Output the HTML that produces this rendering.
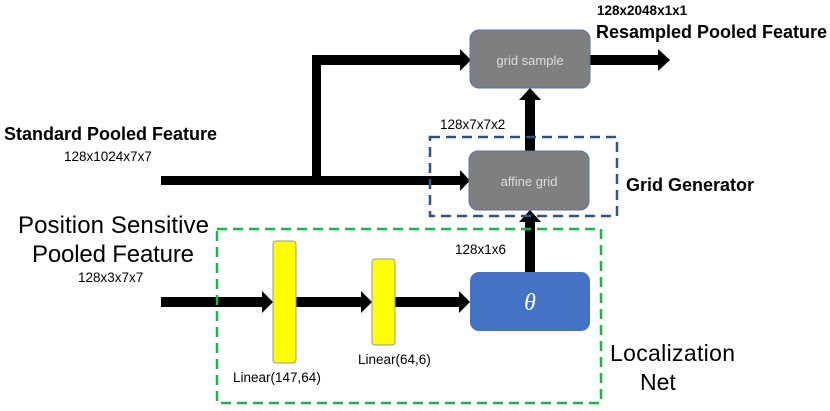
<!DOCTYPE html>
<html><head><meta charset="utf-8"><style>
body{margin:0;width:830px;height:411px;background:#fff;overflow:hidden}
svg{display:block}
text{font-family:"Liberation Sans",sans-serif;fill:#000}
.b{font-weight:bold}
</style></head><body>
<svg width="830" height="411" viewBox="0 0 830 411">
<g fill="#000">
<rect x="312" y="55" width="150" height="10"/>
<polygon points="460,49 471,60 460,71"/>
<rect x="312" y="55" width="9" height="130"/>
<rect x="161" y="176" width="301" height="9"/>
<polygon points="460,170 470,180.5 460,191"/>
<rect x="590" y="55" width="70" height="10"/>
<polygon points="658,49 670,60 658,71"/>
<rect x="525" y="100" width="10" height="51"/>
<polygon points="519,100 530,88 541,100"/>
<rect x="525" y="222" width="10" height="50"/>
<polygon points="519,222 530,210 541,222"/>
<rect x="161" y="297" width="103" height="10"/>
<polygon points="262,291 273,302 262,313"/>
<rect x="296" y="297" width="67" height="10"/>
<polygon points="361,291 372,302 361,313"/>
<rect x="395" y="297" width="66" height="10"/>
<polygon points="459,291 470,302 459,313"/>
</g>
<rect x="470" y="30" width="120" height="58" rx="9" fill="#7f7f7f" stroke="#5a73a6" stroke-width="1"/>
<text x="530" y="65" font-size="13" style="fill:#ddd" text-anchor="middle">grid sample</text>
<rect x="469" y="151" width="120" height="59" rx="9" fill="#7f7f7f" stroke="#5a73a6" stroke-width="1"/>
<text x="529" y="186" font-size="13" style="fill:#ddd" text-anchor="middle">affine grid</text>
<rect x="430" y="137" width="187" height="79" fill="none" stroke="#2f528f" stroke-width="2.5" stroke-dasharray="10,6"/>
<rect x="217" y="229" width="384" height="174" fill="none" stroke="#22b14c" stroke-width="2.5" stroke-dasharray="10,6"/>
<rect x="470" y="272" width="120" height="59" rx="9" fill="#4472c4"/>
<text x="530" y="310" font-size="24" font-style="italic" style="fill:#fff;font-family:'Liberation Serif',serif" text-anchor="middle">θ</text>
<rect x="273" y="241" width="23" height="122" rx="3" fill="#ffff00" stroke="#999" stroke-width="1"/>
<rect x="372" y="259" width="23" height="86" rx="3" fill="#ffff00" stroke="#999" stroke-width="1"/>
<text x="597" y="15" font-size="13.5" class="b">128x2048x1x1</text>
<text x="596" y="38" font-size="18" class="b">Resampled Pooled Feature</text>
<text x="4" y="140" font-size="18" class="b">Standard Pooled Feature</text>
<text x="64" y="161" font-size="13.5">128x1024x7x7</text>
<text x="18" y="233" font-size="24" textLength="191">Position Sensitive</text>
<text x="32" y="262" font-size="24" textLength="162">Pooled Feature</text>
<text x="78" y="282" font-size="13.5">128x3x7x7</text>
<text x="626" y="191" font-size="18" class="b">Grid Generator</text>
<text x="610" y="361" font-size="23" textLength="125">Localization</text>
<text x="640" y="390" font-size="23">Net</text>
<text x="440" y="129" font-size="13.5">128x7x7x2</text>
<text x="455" y="254" font-size="13.5">128x1x6</text>
<text x="233" y="382" font-size="13.5">Linear(147,64)</text>
<text x="358" y="364" font-size="13.5">Linear(64,6)</text>
</svg>
</body></html>
